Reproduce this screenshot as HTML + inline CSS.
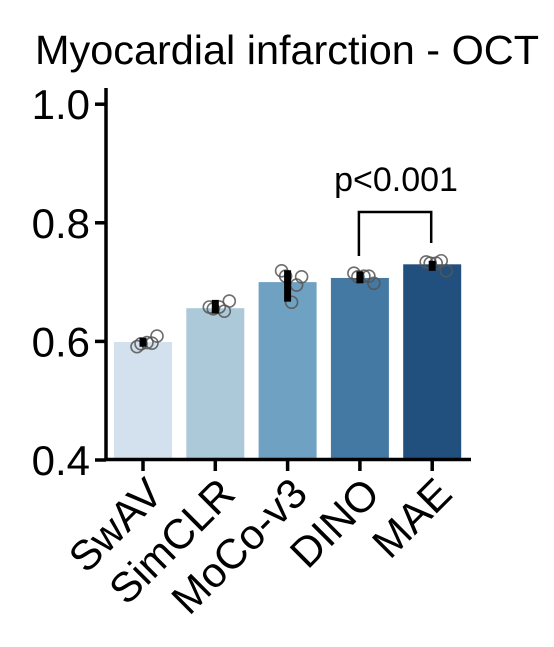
<!DOCTYPE html>
<html><head><meta charset="utf-8"><style>
body{margin:0;background:#fff}
svg text{font-family:"Liberation Sans",Arial,sans-serif;fill:#000}
</style></head><body>
<svg id="chart" width="554" height="642" viewBox="0 0 554 642" xmlns="http://www.w3.org/2000/svg">
<text x="287" y="64" font-size="41" text-anchor="middle" textLength="504" lengthAdjust="spacingAndGlyphs">Myocardial infarction - OCT</text>
<g id="plot"></g>
</svg>
<script>
const categories=["SwAV","SimCLR","MoCo-v3","DINO","MAE"];
const means=[0.599,0.656,0.700,0.707,0.730];
const errLow=[0.591,0.647,0.667,0.698,0.719];
const errHigh=[0.606,0.670,0.720,0.718,0.736];
const pointsSwAV=[0.591,0.597,0.596,0.609,0.598];
const pointsSimCLR=[0.658,0.651,0.655,0.668,0.658];
const pointsMoCo=[0.719,0.695,0.710,0.709,0.666];
const pointsDINO=[0.715,0.710,0.709,0.698,0.710];
const pointsMAE=[0.734,0.736,0.732,0.719,0.732];
const yTicks=[0.4,0.6,0.8,1.0];
const yTickLabels=["0.4","0.6","0.8","1.0"];
const colors=["#d3e1ef","#abc9d9","#6fa2c2","#4479a4","#21507f"];
const pointSets=[pointsSwAV,pointsSimCLR,pointsMoCo,pointsDINO,pointsMAE];
const jitter=[-6,9,-2,14,4];

const NS="http://www.w3.org/2000/svg";
const g=document.getElementById("plot");
const y=v=>460-(v-0.4)*593;
const xc=i=>143+i*72.3;
function mk(t,a){const e=document.createElementNS(NS,t);for(const k in a)e.setAttribute(k,a[k]);g.appendChild(e);return e;}

categories.forEach((c,i)=>{
  const b=mk("rect",{x:xc(i)-29,y:y(means[i]),width:58,height:y(0.4)-y(means[i]),fill:colors[i]});
  
  
});
categories.forEach((c,i)=>{
  pointSets[i].forEach((v,j)=>{
    const p=mk("circle",{cx:xc(i)+jitter[j],cy:y(v),r:6,fill:"none",stroke:"#555","stroke-width":1.6,opacity:0.85});
    
    
  });
  const e=mk("rect",{x:xc(i)-3.5,y:y(errHigh[i]),width:7,height:y(errLow[i])-y(errHigh[i]),fill:"#000"});
  
  
});
const ya=mk("line",{x1:106,y1:88,x2:106,y2:461,stroke:"#000","stroke-width":3.5});


const xa=mk("line",{x1:104.5,y1:459.5,x2:471,y2:459.5,stroke:"#000","stroke-width":3.5});


yTicks.forEach((v,i)=>{
  const t=mk("line",{x1:95,y1:y(v),x2:106,y2:y(v),stroke:"#000","stroke-width":3.5});
  
  
  const l=mk("text",{x:90,y:y(v)+15,"font-size":42,"text-anchor":"end"});
  l.textContent=yTickLabels[i];
  
  
});
categories.forEach((c,i)=>{
  const t=mk("line",{x1:xc(i),y1:459,x2:xc(i),y2:471,stroke:"#000","stroke-width":3.5});
  
  
  const l=mk("text",{x:0,y:0,"font-size":42,"text-anchor":"end",transform:`translate(${xc(i)+22},${496}) rotate(-45)`});
  l.textContent=c;
  
  
});
const br=mk("polyline",{points:`${xc(3)-1},256 ${xc(3)-1},212 ${xc(4)-1},212 ${xc(4)-1},243`,fill:"none",stroke:"#000","stroke-width":2.5});


const pt=mk("text",{x:(xc(3)+xc(4))/2,y:191,"font-size":34,"text-anchor":"middle"});
pt.textContent="p<0.001";


</script>
</body></html>
